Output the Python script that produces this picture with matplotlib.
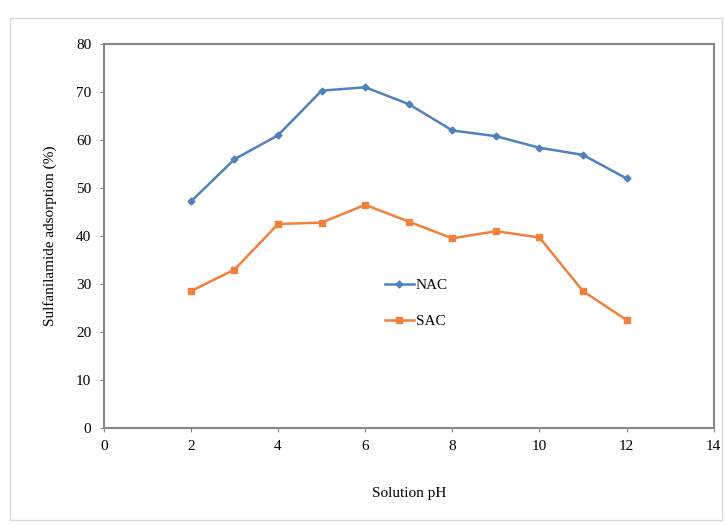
import matplotlib
matplotlib.use('Agg')
from matplotlib import pyplot as plt
from matplotlib.patches import Rectangle

ph = [2, 3, 4, 5, 6, 7, 8, 9, 10, 11, 12]
nac = [47.2, 56.0, 61.0, 70.3, 71.0, 67.5, 62.0, 60.8, 58.4, 56.9, 52.0]
sac = [28.5, 33.0, 42.5, 42.8, 46.5, 43.0, 39.5, 41.0, 39.7, 28.5, 22.5]

plt.rcParams['font.family'] = ['Liberation Serif', 'DejaVu Serif']

fig = plt.figure(figsize=(7.26, 5.25), dpi=100)
ax = fig.add_axes([0.143, 0.185, 0.84, 0.731])

# faint frame round the whole chart, like the Excel chart area
fig.patches.append(Rectangle((0.014, 0.01), 0.98, 0.955, transform=fig.transFigure,
                             fill=False, edgecolor='#d9d9d9', linewidth=1))

ax.plot(ph, nac, color='#4F81BD', marker='D', markersize=3.5, linewidth=1.8, label='NAC')
ax.plot(ph, sac, color='#F0803C', marker='s', markersize=5, linewidth=1.8, label='SAC')

ax.set_xlim(0, 14)
ax.set_ylim(0, 80)
ax.set_xticks(range(0, 15, 2))
ax.set_yticks(range(0, 81, 10))
ax.tick_params(direction='out', length=3, color='#868686', labelsize=11, pad=6)
for s in ax.spines.values():
    s.set_color('#868686')
    s.set_linewidth(1.5)

ax.set_xlabel('Solution pH', fontsize=11, labelpad=24)
ax.set_ylabel('Sulfanilamide adsorption (%)', fontsize=11, labelpad=14)

ax.legend(loc='upper left', bbox_to_anchor=(0.438, 0.425), frameon=False, fontsize=11,
          handlelength=1.9, labelspacing=1.45, handletextpad=0.15)

fig.savefig('out.png', dpi=100)
